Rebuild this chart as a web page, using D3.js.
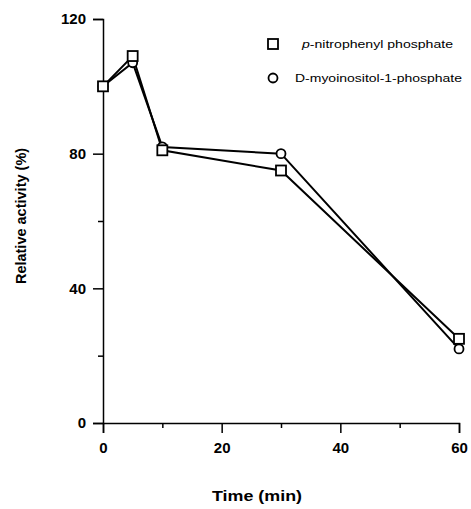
<!DOCTYPE html>
<html>
<head>
<meta charset="utf-8">
<script src="https://cdn.jsdelivr.net/npm/d3@7"></script>
<style>
  body { margin: 0; background: #fff; }
  text { font-family: "Liberation Sans", Arial, sans-serif; }
</style>
</head>
<body>
<div id="chart"></div>
<script>
// data
let times = [0, 5, 10, 30, 60];
let nitrophenyl = [100, 109, 81, 75, 25];
let myoinositol = [100, 107, 82, 80, 22];
let xTicks = [0, 20, 40, 60];
let xMinor = [10, 30, 50];
let yTicks = [0, 40, 80, 120];
let yMinor = [20, 60, 100];
let seriesNames = ["p-nitrophenyl phosphate", "D-myoinositol-1-phosphate"];

let margin = {top: 19, right: 12, bottom: 86, left: 103},
  width = 471 - margin.left - margin.right,
  height = 509 - margin.top - margin.bottom;

let svg = d3.select("#chart")
.append("svg")
  .attr("width", 471)
  .attr("height", 509)
.append("g")
  .attr("transform", "translate(" + margin.left + "," + margin.top + ")");

let x = d3.scaleLinear().domain([0, 60]).range([0, 356]);
let y = d3.scaleLinear().domain([0, 120]).range([height, 0]);

// axes
svg.append("g")
  .attr("transform", "translate(0," + height + ")")
  .call(d3.axisBottom(x).tickValues(xTicks).tickSize(10).tickPadding(9).tickFormat(d3.format("d")))
  .call(g => g.selectAll("text").style("font-size", "15px").style("font-weight", "bold"));
svg.append("g")
  .attr("transform", "translate(0," + height + ")")
  .call(d3.axisBottom(x).tickValues(xMinor).tickSize(5).tickFormat(""))
  .call(g => g.select(".domain").remove());

svg.append("g")
  .call(d3.axisLeft(y).tickValues(yTicks).tickSize(10).tickPadding(7).tickFormat(d3.format("d")))
  .call(g => g.selectAll("text").style("font-size", "15px").style("font-weight", "bold"));
svg.append("g")
  .call(d3.axisLeft(y).tickValues(yMinor).tickSize(5).tickFormat(""))
  .call(g => g.select(".domain").remove());

svg.selectAll(".domain, .tick line").attr("stroke", "#000").attr("stroke-width", 1.5);

// axis titles
svg.append("text")
  .attr("x", 154)
  .attr("y", height + 78)
  .attr("text-anchor", "middle")
  .attr("textLength", 90)
  .attr("lengthAdjust", "spacingAndGlyphs")
  .style("font-size", "14.5px")
  .style("font-weight", "bold")
  .text("Time (min)");

svg.append("text")
  .attr("transform", "translate(" + (-77) + "," + 197 + ") rotate(-90)")
  .attr("text-anchor", "middle")
  .style("font-size", "14.5px")
  .style("font-weight", "bold")
  .text("Relative activity (%)");

let line = d3.line()
  .x(d => x(d[0]))
  .y(d => y(d[1]));

let sq = times.map((t, i) => [t, nitrophenyl[i]]);
let ci = times.map((t, i) => [t, myoinositol[i]]);

svg.append("path").datum(ci)
  .attr("d", line).attr("fill", "none").attr("stroke", "#000").attr("stroke-width", 2);
svg.append("path").datum(sq)
  .attr("d", line).attr("fill", "none").attr("stroke", "#000").attr("stroke-width", 2);

svg.selectAll(".circ").data(ci).enter()
  .append("circle")
  .attr("cx", d => x(d[0]))
  .attr("cy", d => y(d[1]))
  .attr("r", 4.5)
  .attr("fill", "#fff").attr("stroke", "#000").attr("stroke-width", 1.8);

svg.selectAll(".sq").data(sq).enter()
  .append("rect")
  .attr("x", d => x(d[0]) - 5)
  .attr("y", d => y(d[1]) - 5)
  .attr("width", 10).attr("height", 10)
  .attr("fill", "#fff").attr("stroke", "#000").attr("stroke-width", 1.8);

// legend
let legend = svg.append("g").attr("transform", "translate(170,25)");
legend.append("rect")
  .attr("x", -5).attr("y", -5).attr("width", 10).attr("height", 10)
  .attr("fill", "#fff").attr("stroke", "#000").attr("stroke-width", 1.8);
let t1 = legend.append("text")
  .attr("x", 29).attr("y", 4)
  .attr("textLength", 151)
  .attr("lengthAdjust", "spacingAndGlyphs")
  .style("font-size", "11.5px");
t1.append("tspan").style("font-style", "italic").text(seriesNames[0].slice(0, 1));
t1.append("tspan").text(seriesNames[0].slice(1));

legend.append("circle")
  .attr("cx", 0).attr("cy", 34).attr("r", 4.5)
  .attr("fill", "#fff").attr("stroke", "#000").attr("stroke-width", 1.8);
legend.append("text")
  .attr("x", 22).attr("y", 38)
  .attr("textLength", 167)
  .attr("lengthAdjust", "spacingAndGlyphs")
  .style("font-size", "11.5px")
  .text(seriesNames[1]);
</script>
</body>
</html>
